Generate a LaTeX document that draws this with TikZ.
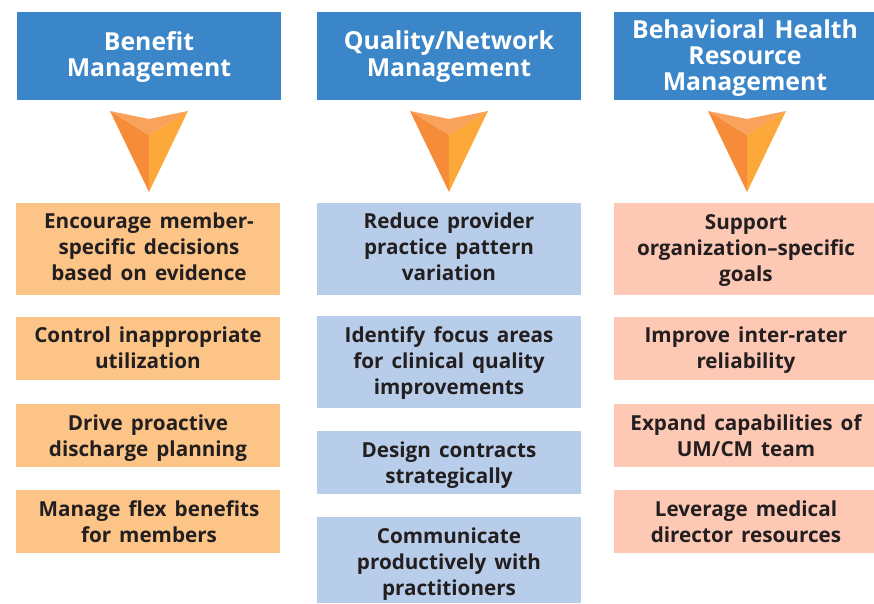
\documentclass[tikz,border=0pt]{standalone}
\usepackage{fontspec}
\setmainfont[WordSpace=1.5]{Open Sans}
\definecolor{headblue}{HTML}{3B86C8}
\definecolor{boxorange}{HTML}{FCC486}
\definecolor{boxblue}{HTML}{B8CDE9}
\definecolor{boxpink}{HTML}{FDC8B4}
\definecolor{tipleft}{HTML}{F68B39}
\definecolor{tipright}{HTML}{FDA93A}
\definecolor{tiptop}{HTML}{F9A25C}
\definecolor{boxtext}{HTML}{231F20}
\tikzset{
  headtext/.style={text=white, inner sep=0pt, align=center,
    font=\fontsize{18.6}{19.6}\selectfont\bfseries,
    execute at begin node=\strut, execute at end node=\strut},
  itemtext/.style={text=boxtext, inner sep=0pt, align=center,
    font=\fontsize{15.5}{19.5}\selectfont\bfseries,
    execute at begin node=\strut, execute at end node=\strut}
}

\begin{document}
\begin{tikzpicture}[x=0.75pt,y=-0.75pt]
    \useasboundingbox (0,0) rectangle (874,603);

    %header bars
    \fill[headblue] (17,12) rectangle (281,100);
    \fill[headblue] (317,12) rectangle (581,100);
    \fill[headblue] (614,12) rectangle (874,100);

    %arrows under the headers
    \foreach \x in {149,449,747}{
        \fill[tipleft] (\x-39,111) -- (\x,135) -- (\x,192) -- cycle;
        \fill[tipright] (\x+39,111) -- (\x,135) -- (\x,192) -- cycle;
        \fill[tiptop] (\x-39,111) -- (\x,119) -- (\x+39,111) -- (\x,135) -- cycle;
    }

    %item boxes
    \foreach \ytop/\ybot in {203/295,317/380,404/467,490/553}
        \fill[boxorange] (16,\ytop) rectangle (280,\ybot);
    \foreach \ytop/\ybot in {203/295,316/408,431/494,517/603}
        \fill[boxblue] (317,\ytop) rectangle (581,\ybot);
    \foreach \ytop/\ybot in {203/295,317/380,404/467,490/553}
        \fill[boxpink] (614,\ytop) rectangle (874,\ybot);

    %header text
    \node[headtext] (benefit) at (149,57.5) {Benefit\\Management};
    \node[headtext] (quality) at (449,57.5) {Quality/Network\\Management};
    \node[headtext] (behavioral) at (745,59) {Behavioral Health\\Resource\\Management};

    %left column
    \node[itemtext] (evidence) at (149,251) {Encourage member-\\specific decisions\\based on evidence};
    \node[itemtext] (control) at (148,352) {Control inappropriate\\utilization};
    \node[itemtext] (discharge) at (148,440) {Drive proactive\\discharge planning};
    \node[itemtext] (flex) at (149,525) {Manage flex benefits\\for members};

    %middle column
    \node[itemtext] (variation) at (449,251) {Reduce provider\\practice pattern\\variation};
    \node[itemtext] (focus) at (449,364) {Identify focus areas\\for clinical quality\\improvements};
    \node[itemtext] (contracts) at (449,467) {Design contracts\\strategically};
    \node[itemtext] (practitioners) at (449,566) {Communicate\\productively with\\practitioners};

    %right column
    \node[itemtext] (goals) at (746,252) {Support\\organization--specific\\goals};
    \node[itemtext] (raters) at (746,352) {Improve inter-rater\\reliability};
    \node[itemtext] (team) at (746,439) {Expand capabilities of\\UM/CM team};
    \node[itemtext] (director) at (746,526) {Leverage medical\\director resources};
\end{tikzpicture}
\end{document}
